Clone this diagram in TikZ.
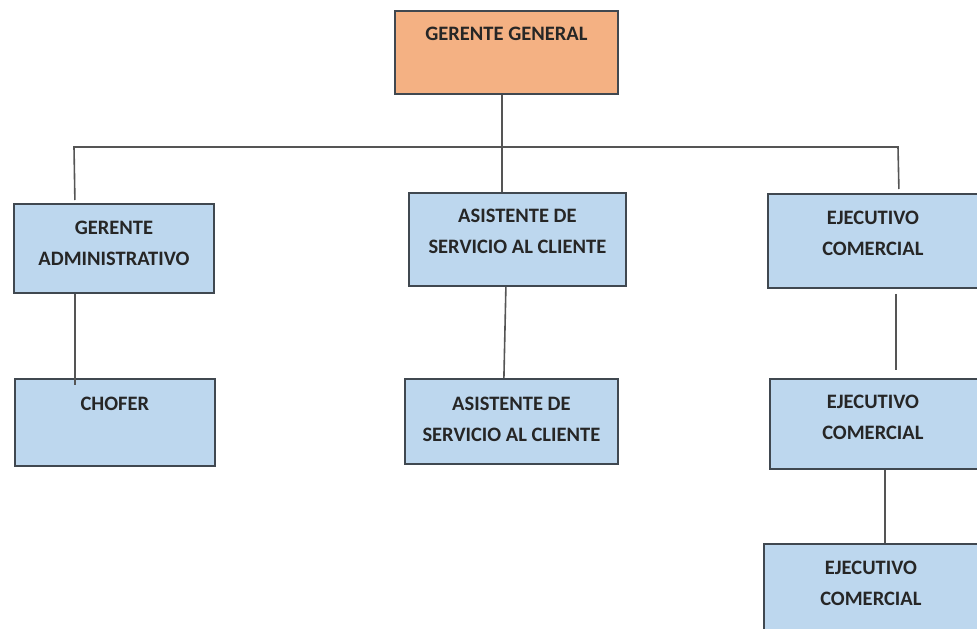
\documentclass[tikz,border=0pt]{standalone}
\usepackage{fontspec}
\setmainfont{Carlito}
\definecolor{boxblue}{HTML}{BDD7EE}
\definecolor{boxorange}{HTML}{F4B183}
\definecolor{boxline}{HTML}{404850}
\definecolor{connline}{HTML}{555555}
\begin{document}
\begin{tikzpicture}[x=1pt,y=-1pt,
  unit/.style={draw=boxline,line width=1.8pt,fill=boxblue,inner sep=0pt,anchor=north west},
  head/.style={unit,fill=boxorange},
  caption/.style={anchor=north,inner sep=0pt,align=center,font=\bfseries\fontsize{20.5}{31.5}\selectfont,text=black!85},
  conn/.style={draw=connline,line width=1.6pt}]
\useasboundingbox (0,0) rectangle (977,629);
\clip (0,0) rectangle (977,629);
% boxes
\node[head,minimum width=223pt,minimum height=83pt] (gg) at (394,10) {};
\node[unit,minimum width=200pt,minimum height=89pt] (ga) at (13,203) {};
\node[unit,minimum width=200pt,minimum height=87pt] (ch) at (14,378) {};
\node[unit,minimum width=217pt,minimum height=93pt] (as1) at (408,192) {};
\node[unit,minimum width=213pt,minimum height=85pt] (as2) at (404,378) {};
\node[unit,minimum width=230pt,minimum height=94pt] (ec1) at (767,193) {};
\node[unit,minimum width=230pt,minimum height=90pt] (ec2) at (769,378) {};
\node[unit,minimum width=230pt,minimum height=100pt] (ec3) at (763,543) {};
% captions
\node[caption] (tgg) at ([yshift=-16.5]gg.north) {GERENTE GENERAL};
\node[caption] (tga) at ([yshift=-17.5]ga.north) {GERENTE\\ADMINISTRATIVO};
\node[caption] (tch) at ([yshift=-18.5]ch.north) {CHOFER};
\node[caption] (tas1) at ([yshift=-16.5]as1.north) {ASISTENTE DE\\SERVICIO AL CLIENTE};
\node[caption] (tas2) at ([yshift=-18.5]as2.north) {ASISTENTE DE\\SERVICIO AL CLIENTE};
\node[caption] (tec1) at ([xshift=-10,yshift=-17.5]ec1.north) {EJECUTIVO\\COMERCIAL};
\node[caption] (tec2) at ([xshift=-12,yshift=-16.5]ec2.north) {EJECUTIVO\\COMERCIAL};
\node[caption] (tec3) at ([xshift=-8,yshift=-17.5]ec3.north) {EJECUTIVO\\COMERCIAL};
% connectors
\coordinate (jl) at (74,147);
\coordinate (jr) at (898,147);
\draw[conn] ([xshift=-4.5]gg.south) -- ([xshift=-15.5]as1.north);
\draw[conn] ([xshift=-39,yshift=3]ga.north) -- (jl) -- (jr) -- ([xshift=16,yshift=4]ec1.north);
\draw[conn] ([xshift=-39]ga.south) -- ([xshift=-40,yshift=-7]ch.north);
\draw[conn] ([xshift=-11.5]as1.south) -- ([xshift=-7.5]as2.north);
\draw[conn] ([xshift=13,yshift=-5]ec1.south) -- ([xshift=11,yshift=8]ec2.north);
\draw[conn] ([xshift=0]ec2.south) -- ([xshift=6]ec3.north);
\end{tikzpicture}
\end{document}
